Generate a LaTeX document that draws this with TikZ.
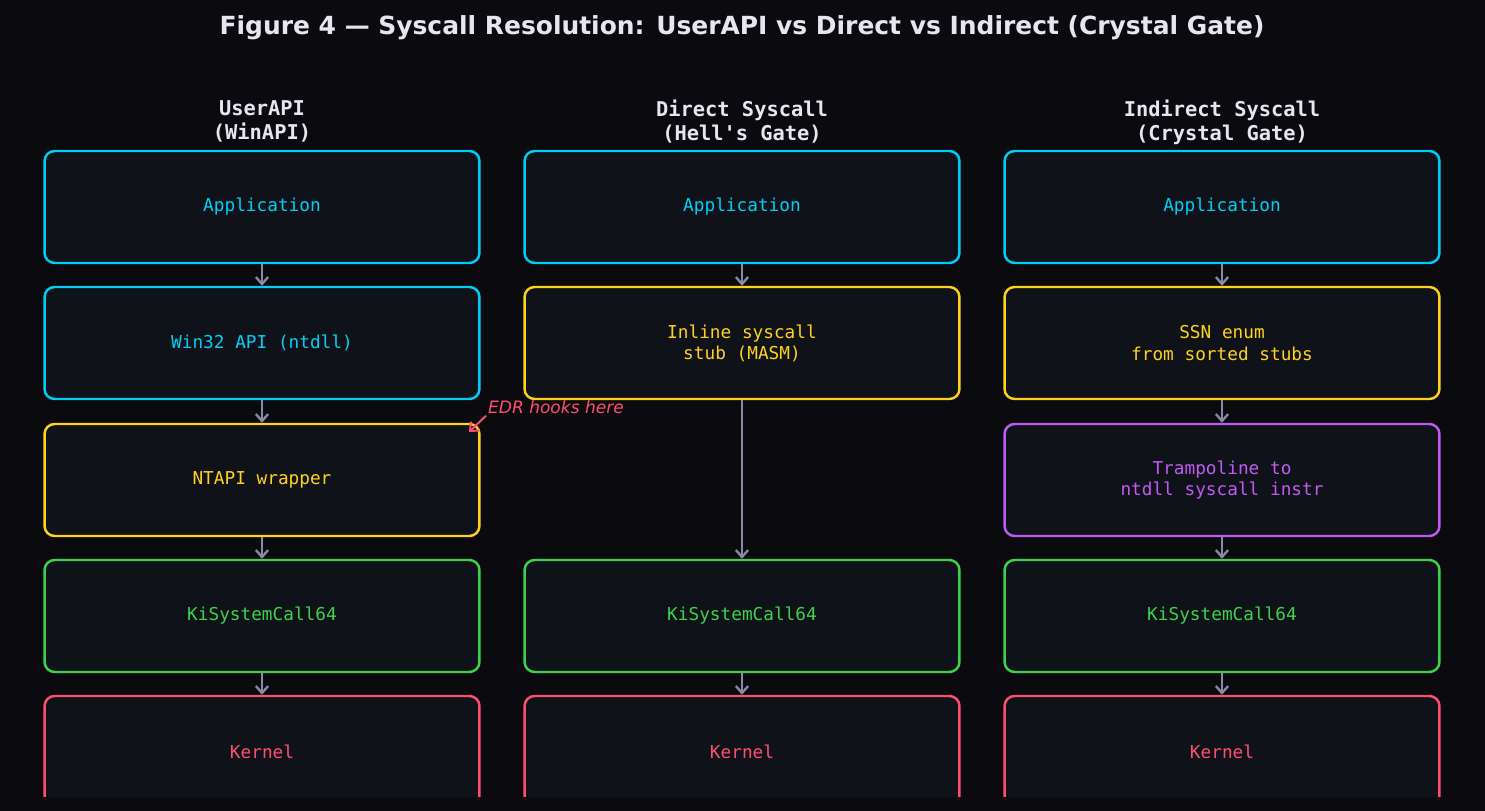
\documentclass[tikz,border=0pt]{standalone}
\usepackage{fontspec}
\setmainfont{DejaVu Sans}
\setmonofont{DejaVu Sans Mono}
\usetikzlibrary{arrows.meta}
\definecolor{bgdark}{HTML}{0A0A0F}
\definecolor{boxfill}{HTML}{10121A}
\definecolor{headtext}{HTML}{E6E6F0}
\definecolor{flowgray}{HTML}{8A8AA8}
\definecolor{cyanline}{HTML}{00CFF5}
\definecolor{yellowline}{HTML}{FFD21A}
\definecolor{greenline}{HTML}{3DD14A}
\definecolor{redline}{HTML}{FF4D6D}
\definecolor{purpleline}{HTML}{BF5AF2}

\begin{document}
\begin{tikzpicture}[x=0.02cm, y=-0.02cm,
    stage/.style={draw=#1, text=#1, fill=boxfill, rounded corners=5.7pt, line width=1.4pt,
        minimum width=8.7cm, minimum height=2.24cm, align=center,
        font=\ttfamily\fontsize{10.1}{12}\selectfont},
    flow/.style={-{Straight Barb[length=4pt,width=7pt]}, line width=1.3pt, flowgray},
    colhead/.style={text=headtext, align=center, font=\ttfamily\bfseries\fontsize{11.6}{13.6}\selectfont}]

    \fill[bgdark] (0,0) rectangle (1485,811);

    % title and column heads
    \node[text=headtext, font=\bfseries\fontsize{14.2}{16}\selectfont] (title) at (742,28)
        {Figure 4 — Syscall Resolution: UserAPI vs Direct vs Indirect (Crystal Gate)};
    \node[colhead] (headUser) at (262,121) {UserAPI\\(WinAPI)};
    \node[colhead] (headDirect) at (742,122) {Direct Syscall\\(Hell's Gate)};
    \node[colhead] (headIndirect) at (1222,122) {Indirect Syscall\\(Crystal Gate)};

    \begin{scope}
    \clip (0,0) rectangle (1485,796);

    % UserAPI column
    \node[stage=cyanline] (uApp) at (262,207) {Application};
    \node[stage=cyanline] (uWin) at (262,343) {Win32 API (ntdll)};
    \node[stage=yellowline] (uNt) at (262,480) {NTAPI wrapper};
    \node[stage=greenline] (uKi) at (262,616) {KiSystemCall64};
    \node[stage=redline] (uKer) at (262,752) {Kernel};

    % Direct syscall column
    \node[stage=cyanline] (dApp) at (742,207) {Application};
    \node[stage=yellowline] (dStub) at (742,343) {Inline syscall\\stub (MASM)};
    \node[stage=greenline] (dKi) at (742,616) {KiSystemCall64};
    \node[stage=redline] (dKer) at (742,752) {Kernel};

    % Indirect syscall column
    \node[stage=cyanline] (iApp) at (1222,207) {Application};
    \node[stage=yellowline] (iSsn) at (1222,343) {SSN enum\\from sorted stubs};
    \node[stage=purpleline] (iTramp) at (1222,480) {Trampoline to\\ntdll syscall instr};
    \node[stage=greenline] (iKi) at (1222,616) {KiSystemCall64};
    \node[stage=redline] (iKer) at (1222,752) {Kernel};
    \end{scope}

    \draw[flow] (uApp.south) -- (uWin.north);
    \draw[flow] (uWin.south) -- (uNt.north);
    \draw[flow] (uNt.south) -- (uKi.north);
    \draw[flow] (uKi.south) -- (uKer.north);

    \draw[flow] (dApp.south) -- (dStub.north);
    \draw[flow] (dStub.south) -- (dKi.north);
    \draw[flow] (dKi.south) -- (dKer.north);

    \draw[flow] (iApp.south) -- (iSsn.north);
    \draw[flow] (iSsn.south) -- (iTramp.north);
    \draw[flow] (iTramp.south) -- (iKi.north);
    \draw[flow] (iKi.south) -- (iKer.north);

    % hook marker
    \node[redline, anchor=west, inner sep=1pt, font=\itshape\fontsize{9.7}{11}\selectfont] (edrNote) at (486,407) {EDR hooks here};
    \coordinate (edrTip) at (469,432);
    \draw[-{Straight Barb[length=4pt,width=7pt]}, line width=1.1pt, redline] (edrNote.south west) -- (edrTip);
\end{tikzpicture}
\end{document}
